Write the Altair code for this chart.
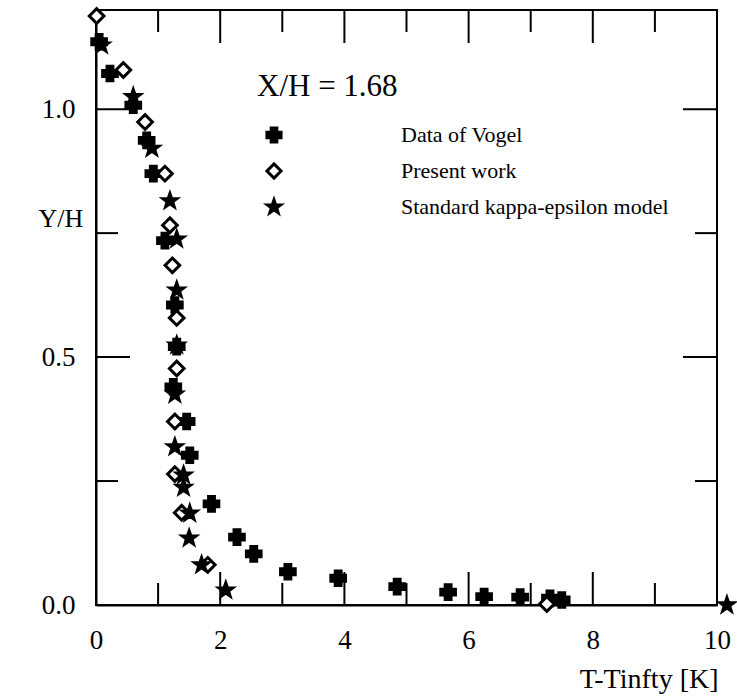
import altair as alt
import pandas as pd

SERIES = ["Data of Vogel", "Present work", "Standard kappa-epsilon model"]

vogel_x = [0.05, 0.225, 0.60, 0.816, 0.923, 1.11, 1.27, 1.30, 1.245, 1.46, 1.51, 1.86,
           2.27, 2.54, 3.09, 3.90, 4.85, 5.67, 6.25, 6.83, 7.31, 7.50]
vogel_y = [1.136, 1.072, 1.008, 0.937, 0.870, 0.735, 0.605, 0.521, 0.440, 0.370, 0.302, 0.204,
           0.137, 0.103, 0.067, 0.054, 0.037, 0.026, 0.017, 0.016, 0.0135, 0.010]

present_x = [0.01, 0.44, 0.79, 1.11, 1.19, 1.23, 1.30, 1.30, 1.27, 1.27, 1.38, 1.80, 7.26]
present_y = [1.188, 1.079, 0.974, 0.870, 0.766, 0.685, 0.579, 0.477, 0.370, 0.264, 0.186, 0.081, 0.002]

ke_x = [0.09, 0.60, 0.90, 1.19, 1.30, 1.30, 1.30, 1.27, 1.27, 1.41, 1.41, 1.51, 1.50, 1.70, 2.09, 10.16]
ke_y = [1.129, 1.025, 0.921, 0.815, 0.738, 0.635, 0.524, 0.425, 0.319, 0.262, 0.237, 0.185, 0.135,
        0.081, 0.030, 0.0]

x_major = [0, 2, 4, 6, 8, 10]
x_minor = [1, 3, 5, 7, 9]
y_major = [0.0, 0.5, 1.0]
y_minor = [0.25, 0.75]

rows = []
for name, xs_, ys_ in [(SERIES[0], vogel_x, vogel_y), (SERIES[1], present_x, present_y),
                       (SERIES[2], ke_x, ke_y)]:
    for a, b in zip(xs_, ys_):
        rows.append({"x": a, "y": b, "series": name})
df = pd.DataFrame(rows)

W, H = 621, 595
FONT = "Liberation Serif"

STAR = ("M0,-1L0.235,-0.324L0.951,-0.309L0.380,0.124L0.588,0.809L0,0.4L-0.588,0.809"
        "L-0.380,0.124L-0.951,-0.309L-0.235,-0.324Z")

xs = alt.Scale(domain=[0, 10], nice=False, zero=False)
ys = alt.Scale(domain=[0, 1.2], nice=False, zero=False)

x_axis = alt.Axis(
    values=x_major, ticks=False, domain=True, domainColor="black", domainWidth=2, grid=False,
    labelFont=FONT, labelFontSize=27, labelColor="black", labelPadding=22,
    labelFlush=False, labelOverlap=False,
    title="T-Tinfty [K]", titleFont=FONT, titleFontSize=28, titleFontWeight="normal",
    titleColor="black", titleAlign="right", titleAnchor="end", titleX=W + 1, titleY=82,
    titleBaseline="alphabetic")
y_axis = alt.Axis(
    values=y_major, format=".1f", ticks=False, domain=True, domainColor="black", domainWidth=2,
    grid=False, labelFont=FONT, labelFontSize=27, labelColor="black", labelPadding=21,
    labelFlush=False, labelOverlap=False,
    title="Y/H", titleAngle=0, titleFont=FONT, titleFontSize=26, titleFontWeight="normal",
    titleColor="black", titleAlign="left", titleBaseline="middle", titleX=-58, titleY=208)

legend = alt.Legend(
    title="X/H = 1.68", orient="none", legendX=161, legendY=62,
    titleFont=FONT, titleFontSize=31, titleFontWeight="normal", titleColor="black",
    titlePadding=21, labelFont=FONT, labelFontSize=22, labelColor="black", labelLimit=0,
    labelOffset=116, symbolSize=200, symbolStrokeColor="black", symbolStrokeWidth=3,
    symbolOffset=6, rowPadding=8, padding=0,
)

points = alt.Chart(df).mark_point(opacity=1, size=215, strokeWidth=3).encode(
    x=alt.X("x:Q", scale=xs, axis=x_axis),
    y=alt.Y("y:Q", scale=ys, axis=y_axis),
    shape=alt.Shape("series:N", scale=alt.Scale(domain=SERIES, range=["cross", "diamond", STAR]),
                    legend=legend),
    fill=alt.Fill("series:N", scale=alt.Scale(domain=SERIES, range=["black", "white", "black"]),
                  legend=legend),
    stroke=alt.Stroke("series:N", scale=alt.Scale(domain=SERIES, range=["black", "black", "black"]),
                      legend=legend),
)

xmaj = pd.DataFrame({"v": x_major})
xmin = pd.DataFrame({"v": x_minor})
ymaj = pd.DataFrame({"v": y_major})
ymin = pd.DataFrame({"v": y_minor})


def xrule(d, y1, y2):
    return alt.Chart(d).mark_rule(color="black", strokeWidth=2).encode(
        x=alt.X("v:Q", scale=xs, axis=x_axis), y=alt.value(y1), y2=alt.value(y2))


def yrule(d, x1, x2):
    return alt.Chart(d).mark_rule(color="black", strokeWidth=2).encode(
        y=alt.Y("v:Q", scale=ys, axis=y_axis), x=alt.value(x1), x2=alt.value(x2))


ticks = [
    xrule(xmaj, H, H - 33), xrule(xmin, H, H - 22),
    xrule(xmaj, 0, 33), xrule(xmin, 0, 22),
    yrule(ymaj, 0, 34), yrule(ymin, 0, 22),
    yrule(ymaj, W, W - 34), yrule(ymin, W, W - 22),
]

chart = alt.layer(*ticks, points).properties(
    width=W, height=H,
    autosize=alt.AutoSizeParams(type="none"),
    padding={"left": 96, "top": 10, "right": 20, "bottom": 93},
).configure_view(stroke="black", strokeWidth=2)

chart.save("out.html", embed_options={"renderer": "svg", "actions": False})
